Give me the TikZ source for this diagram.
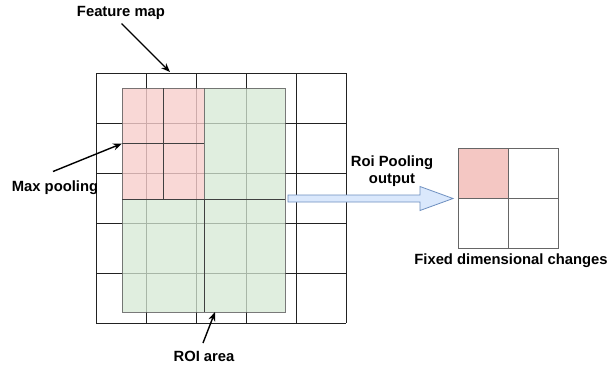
\documentclass[tikz,border=0pt]{standalone}
\usepackage{fontspec}
\setmainfont{Liberation Sans}
\usetikzlibrary{arrows.meta}
\definecolor{gridc}{HTML}{222222}
\definecolor{roigreen}{HTML}{D5E8D4}
\definecolor{roired}{HTML}{F8CECC}
\definecolor{outred}{HTML}{F4C7C3}
\definecolor{arrfill}{HTML}{DAE8FC}
\definecolor{arrdraw}{HTML}{6C8EBF}
\tikzset{
  lbl/.style={font=\fontsize{14.8}{16.5}\selectfont\bfseries, inner sep=0pt, text=black},
  gridline/.style={draw=gridc, line width=0.8pt},
  greenfill/.style={fill=roigreen, fill opacity=0.75},
  redfill/.style={fill=roired, fill opacity=0.8},
  roiborder/.style={draw=black!65, draw opacity=0.8, line width=1pt},
  divline/.style={draw=black!75, line width=1pt},
  pointer/.style={draw=black, line width=1.4pt, -{Stealth[length=9pt,width=7pt]}},
  outcell/.style={draw=black!60, line width=1pt},
}
\begin{document}
\begin{tikzpicture}[x=1pt,y=-1pt]
\useasboundingbox (0,0) rectangle (607,367);
% feature map grid
\foreach \i in {0,...,5} {
  \draw[gridline] (96+50*\i,73) -- (96+50*\i,323);
  \draw[gridline] (96,73+50*\i) -- (346,73+50*\i);
}
% ROI area
\path[greenfill] (204,88) -- (285,88) -- (285,312) -- (122,312) -- (122,199) -- (204,199) -- cycle;
\path[redfill] (122,88) rectangle (204,199);
\path[roiborder] (122,88) rectangle (285,312);
\path[roiborder] (204,88) -- (204,199);
\draw[divline] (163.5,88) -- (163.5,199);
\draw[divline] (122,143.5) -- (204,143.5);
\draw[divline] (122,199) -- (285,199);
\draw[divline] (204,199) -- (204,312);
% output 2x2
\fill[outred] (458,148) rectangle (508,198);
\draw[outcell] (458,148) rectangle (558,248);
\draw[outcell] (508,148) -- (508,248);
\draw[outcell] (458,198) -- (558,198);
% blue arrow
\coordinate (arrS) at (288,198.5);
\coordinate (arrT) at (453,198.5);
\filldraw[fill=arrfill, draw=arrdraw, line width=0.8pt]
  (288,195) -- (420,195) -- (420,186.5) -- (453,198.5) -- (420,210.5) -- (420,202) -- (288,202) -- cycle;
% labels
\node[lbl] (fm) at (121,13) {Feature map};
\node[lbl] (mp) at (55,188) {Max pooling};
\node[lbl, align=center] (rp) at (392,171) {Roi Pooling\\output};
\node[lbl] (fd) at (511,261) {Fixed dimensional changes};
\node[lbl] (ra) at (204,356) {ROI area};
% pointers
\coordinate (fmS) at (121.5,23.5);
\coordinate (fmT) at (170,72);
\coordinate (mpS) at (53,171.5);
\coordinate (mpT) at (122,143.5);
\coordinate (raS) at (203,343);
\coordinate (raT) at (215,312);
\draw[pointer] (fmS) -- (fmT);
\draw[pointer] (mpS) -- (mpT);
\draw[pointer] (raS) -- (raT);
\end{tikzpicture}
\end{document}
